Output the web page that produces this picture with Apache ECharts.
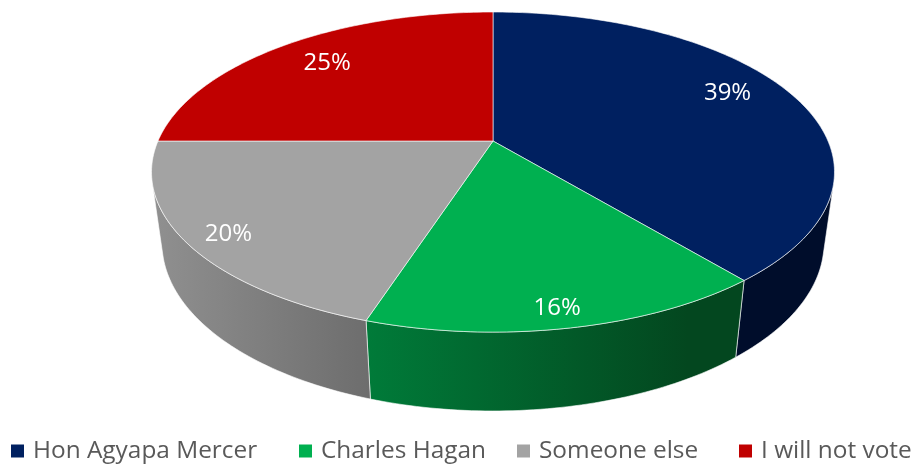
<!DOCTYPE html>
<html>
<head>
<meta charset="utf-8">
<style>
  html, body { margin: 0; padding: 0; background: #fff; }
  #chart { width: 916px; height: 464px; }
</style>
<script src="https://cdn.jsdelivr.net/npm/echarts@6/dist/echarts.min.js"></script>
</head>
<body>
<div id="chart"></div>
<script>
const names = ['Hon Agyapa Mercer', 'Charles Hagan', 'Someone else', 'I will not vote'];
const shares = [39, 16, 20, 25];
const colors = ['#002060', '#00B050', '#A3A3A3', '#C00000'];
const sideColors = [
  ['#000d2b', '#000d2b'],
  ['#007b39', '#03471f'],
  ['#909090', '#6d6d6d'],
  ['#7a0000', '#7a0000']
];

// tilted disc: projective map of the unit circle, top face and base
const topFace = { cx: 493, cy: 141, a: 335, b: 154, k: -0.194 };
const baseFace = { cx: 493, cy: 211, a: 325, b: 162, k: -0.19 };
const silhouette = 105; // degrees from 12 o'clock where the wall turns away

const total = shares.reduce((s, v) => s + v, 0);

function project(face, deg, r) {
  const t = deg * Math.PI / 180;
  const u = r * Math.sin(t);
  const v = -r * Math.cos(t);
  const d = 1 + face.k * v;
  return [face.cx + face.a * u / d, face.cy + face.b * v / d];
}

function arc(face, from, to) {
  const pts = [];
  const n = Math.max(2, Math.ceil(Math.abs(to - from)));
  for (let i = 0; i <= n; i++) {
    pts.push(project(face, from + (to - from) * i / n, 1));
  }
  return pts;
}

// label nudges in pixels, the original has them placed by hand
const labelNudge = [[-5, -8], [5, 24], [-26, 13], [5, 1]];

function renderSlice(index, api) {
  const before = shares.slice(0, index).reduce((s, v) => s + v, 0);
  const from = before / total * 360;
  const to = (before + api.value(0)) / total * 360;
  const children = [];

  // side wall, only the part facing the viewer
  const wallFrom = Math.max(from, silhouette);
  const wallTo = Math.min(to, 360 - silhouette);
  if (wallTo > wallFrom) {
    const upper = arc(topFace, wallFrom, wallTo);
    const lower = arc(baseFace, wallFrom, wallTo).reverse();
    const side = sideColors[index];
    children.push({
      type: 'polygon',
      shape: { points: upper.concat(lower) },
      style: {
        fill: new echarts.graphic.LinearGradient(0, 0, 1, 0, [
          { offset: 0, color: side[0] },
          { offset: index === 1 ? 0.85 : 1, color: side[1] },
          { offset: 1, color: side[1] }
        ]),
        stroke: '#fff',
        lineWidth: 0.6
      }
    });
  }

  // top face
  const topPts = [[topFace.cx, topFace.cy]].concat(arc(topFace, from, to));
  children.push({
    type: 'polygon',
    shape: { points: topPts },
    style: { fill: colors[index], stroke: '#fff', lineWidth: 0.6 }
  });

  // data label
  const mid = (from + to) / 2;
  const p = project(topFace, mid, 0.8);
  children.push({
    type: 'text',
    x: p[0] + labelNudge[index][0],
    y: p[1] + labelNudge[index][1],
    style: {
      text: api.value(0) + '%',
      fill: '#fff',
      font: '24px "Open Sans"',
      align: 'center',
      verticalAlign: 'middle'
    }
  });
  return { type: 'group', children };
}

const legendLeft = [11, 299, 517, 739];

const chart = echarts.init(document.getElementById('chart'), null, { renderer: 'canvas' });
chart.setOption({
  animation: false,
  backgroundColor: '#fff',
  legend: names.map((name, i) => ({
    data: [name],
    left: legendLeft[i],
    top: 439,
    padding: 0,
    icon: 'rect',
    itemWidth: 13,
    itemHeight: 13,
    textStyle: {
      color: '#595959',
      fontFamily: 'Open Sans',
      fontSize: 24.4,
      padding: [0, 0, 0, 4]
    }
  })),
  series: names.map((name, i) => ({
    type: 'custom',
    name: name,
    coordinateSystem: 'none',
    itemStyle: { color: colors[i] },
    silent: true,
    data: [[shares[i]]],
    renderItem: (params, api) => renderSlice(i, api)
  }))
});
</script>
</body>
</html>
